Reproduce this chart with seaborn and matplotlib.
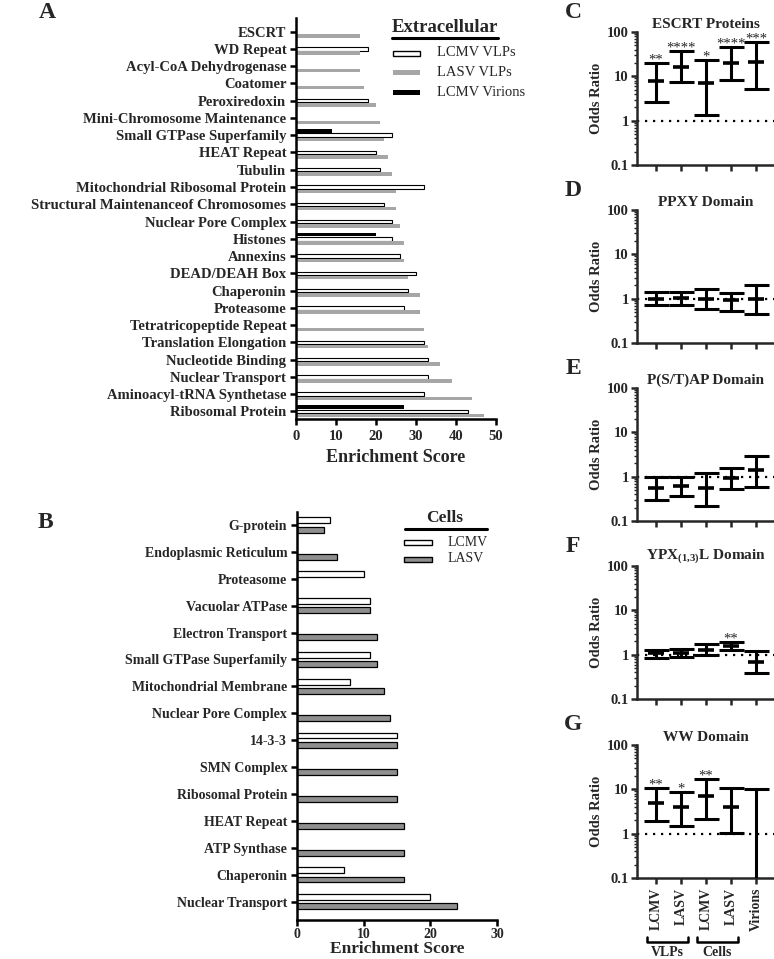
import numpy as np
import pandas as pd
import matplotlib
matplotlib.use("Agg")
import matplotlib.pyplot as plt
from matplotlib.patches import Rectangle
from matplotlib.lines import Line2D
from matplotlib.ticker import FixedLocator, LogLocator, NullFormatter
import seaborn as sns

# ---- panel A: extracellular enrichment ----
a_categories = [
    "ESCRT", "WD Repeat", "Acyl-CoA Dehydrogenase", "Coatomer", "Peroxiredoxin",
    "Mini-Chromosome Maintenance", "Small GTPase Superfamily", "HEAT Repeat", "Tubulin",
    "Mitochondrial Ribosomal Protein", "Structural Maintenanceof Chromosomes",
    "Nuclear Pore Complex", "Histones", "Annexins", "DEAD/DEAH Box", "Chaperonin",
    "Proteasome", "Tetratricopeptide Repeat", "Translation Elongation",
    "Nucleotide Binding", "Nuclear Transport", "Aminoacyl-tRNA Synthetase",
    "Ribosomal Protein",
]
nan = np.nan
a_lcmv_vlps = [nan, 18, nan, nan, 18, nan, 24, 20, 21, 32, 22, 24, 24, 26, 30, 28, 27,
               nan, 32, 33, 33, 32, 43]
a_lasv_vlps = [16, 16, 16, 17, 20, 21, 22, 23, 24, 25, 25, 26, 27, 27, 28, 31, 31,
               32, 33, 36, 39, 44, 47]
a_lcmv_virions = [nan, nan, nan, nan, nan, nan, 9, nan, nan, nan, nan, nan, 20, nan, nan,
                  nan, nan, nan, nan, nan, nan, nan, 27]
a_series = ["LCMV Virions", "LCMV VLPs", "LASV VLPs"]

# ---- panel B: cells enrichment ----
b_categories = [
    "G-protein", "Endoplasmic Reticulum", "Proteasome", "Vacuolar ATPase",
    "Electron Transport", "Small GTPase Superfamily", "Mitochondrial Membrane",
    "Nuclear Pore Complex", "14-3-3", "SMN Complex", "Ribosomal Protein",
    "HEAT Repeat", "ATP Synthase", "Chaperonin", "Nuclear Transport",
]
b_lcmv = [5, nan, 10, 11, nan, 11, 8, nan, 15, nan, nan, nan, nan, 7, 20]
b_lasv = [4, 6, nan, 11, 12, 12, 13, 14, 15, 15, 15, 16, 16, 16, 24]
b_series = ["LCMV", "LASV"]

# ---- panels C-G: odds ratios ----
or_groups = ["LCMV", "LASV", "LCMV", "LASV", "Virions"]
escrt_or = [7.8, 16.5, 7.2, 20.5, 21.5]
escrt_lo = [2.6, 7.4, 1.35, 8.1, 5.3]
escrt_hi = [19.5, 37, 23, 46, 60]
escrt_sig = ["**", "****", "*", "****", "***"]
ppxy_or = [1.0, 1.05, 1.0, 0.92, 1.0]
ppxy_lo = [0.72, 0.73, 0.6, 0.54, 0.44]
ppxy_hi = [1.38, 1.45, 1.68, 1.34, 2.0]
pstap_or = [0.56, 0.62, 0.56, 0.95, 1.45]
pstap_lo = [0.3, 0.36, 0.22, 0.52, 0.6]
pstap_hi = [1.0, 1.0, 1.18, 1.55, 2.9]
ypx_or = [1.1, 1.1, 1.3, 1.55, 0.68]
ypx_lo = [0.85, 0.88, 0.98, 1.25, 0.38]
ypx_hi = [1.3, 1.32, 1.75, 1.95, 1.2]
ypx_sig = ["", "", "", "**", ""]
ww_or = [4.9, 4.0, 6.9, 4.0, nan]
ww_lo = [1.9, 1.5, 2.1, 1.05, 0.01]
ww_hi = [10.7, 8.9, 17.2, 10.7, 10]
ww_sig = ["**", "*", "**", "", ""]

sns.set_style("ticks")
plt.rcParams["font.family"] = ["Liberation Serif", "DejaVu Serif"]
plt.rcParams["font.weight"] = "bold"
plt.rcParams["axes.labelweight"] = "bold"
plt.rcParams["axes.titleweight"] = "bold"
plt.rcParams["mathtext.fontset"] = "custom"
plt.rcParams["mathtext.rm"] = "Liberation Serif"
plt.rcParams["mathtext.bf"] = "Liberation Serif:bold"

W, H = 774, 959
fig = plt.figure(figsize=(W / 100, H / 100), dpi=100)


def add_ax(l, t, r, b):
    return fig.add_axes([l / W, 1 - b / H, (r - l) / W, (b - t) / H])


def fx(x):
    return x / W


def fy(y):
    return 1 - y / H


SPW = 1.8  # spine width in points


def style_bar_axes(ax):
    sns.despine(ax=ax)
    for s in ["left", "bottom"]:
        ax.spines[s].set_linewidth(SPW)
        ax.spines[s].set_color("black")
    ax.tick_params(axis="both", length=4, width=SPW, color="black")


# ---------- panel A ----------
axA = add_ax(296, 18, 496, 419)
dfA = pd.DataFrame({
    "category": a_categories * 3,
    "series": ["LCMV Virions"] * 23 + ["LCMV VLPs"] * 23 + ["LASV VLPs"] * 23,
    "value": a_lcmv_virions + a_lcmv_vlps + a_lasv_vlps,
}).dropna()
sns.barplot(data=dfA, x="value", y="category", hue="series", order=a_categories,
            hue_order=a_series, orient="h", width=0.75, gap=0.2, errorbar=None,
            palette={"LCMV Virions": "black", "LCMV VLPs": "white", "LASV VLPs": "#a6a6a6"},
            legend=False, ax=axA, linewidth=0)
for cont, name in zip(axA.containers, a_series):
    for p in cont:
        if name == "LCMV VLPs":
            p.set_edgecolor("black")
            p.set_linewidth(0.8)
axA.set_xlim(0, 50)
axA.set_ylim(22.44, -0.79)
axA.set_xticks([0, 10, 20, 30, 40, 50])
axA.set_ylabel("")
axA.set_xlabel("Enrichment Score", fontsize=13, labelpad=4)
style_bar_axes(axA)
axA.tick_params(axis="y", labelsize=10.5, pad=3)
axA.tick_params(axis="x", labelsize=10.5, pad=4)

# legend A
fig.text(fx(392), fy(27), "Extracellular", fontsize=13.5, ha="left", va="center")
fig.add_artist(Line2D([fx(392), fx(498)], [fy(38), fy(38)], color="black", lw=2.2))
a_leg_faces = {"LCMV VLPs": "white", "LASV VLPs": "#a6a6a6", "LCMV Virions": "black"}
for i, name in enumerate(["LCMV VLPs", "LASV VLPs", "LCMV Virions"]):
    yc = 53 + i * 19.5
    fig.add_artist(Rectangle((fx(393), fy(yc + 2.5)), (420 - 393) / W, 5 / H,
                             facecolor=a_leg_faces[name],
                             edgecolor="black" if name == "LCMV VLPs" else "none",
                             lw=1.0, transform=fig.transFigure))
    fig.text(fx(437), fy(yc), name, fontsize=10.5, fontweight="normal", ha="left", va="center")

# ---------- panel B ----------
axB = add_ax(297, 512, 497, 920)
dfB = pd.DataFrame({
    "category": b_categories * 2,
    "series": ["LCMV"] * 15 + ["LASV"] * 15,
    "value": b_lcmv + b_lasv,
}).dropna()
sns.barplot(data=dfB, x="value", y="category", hue="series", order=b_categories,
            hue_order=b_series, orient="h", width=0.7, gap=0.37, errorbar=None,
            palette={"LCMV": "white", "LASV": "#8f8f8f"}, edgecolor="black",
            linewidth=0.9, legend=False, ax=axB)
axB.set_xlim(0, 30)
axB.set_ylim(14.68, -0.48)
axB.set_xticks([0, 10, 20, 30])
axB.set_ylabel("")
axB.set_xlabel("Enrichment Score", fontsize=12.5, labelpad=0)
style_bar_axes(axB)
axB.tick_params(axis="y", labelsize=10, pad=3)
axB.tick_params(axis="x", labelsize=10, pad=2)

# legend B
fig.text(fx(445), fy(518), "Cells", fontsize=12.5, ha="center", va="center")
fig.add_artist(Line2D([fx(405), fx(487)], [fy(529), fy(529)], color="black", lw=2.2))
for i, (name, face) in enumerate(zip(b_series, ["white", "#8f8f8f"])):
    yc = 542 + i * 17
    fig.add_artist(Rectangle((fx(404), fy(yc + 2.5)), (432 - 404) / W, 5 / H,
                             facecolor=face, edgecolor="black", lw=1.0,
                             transform=fig.transFigure))
    fig.text(fx(448), fy(yc), name, fontsize=10, fontweight="normal", ha="left", va="center")

# ---------- panels C-G ----------
panels = [
    ("ESCRT Proteins", escrt_or, escrt_lo, escrt_hi, escrt_sig),
    ("PPXY Domain", ppxy_or, ppxy_lo, ppxy_hi, None),
    ("P(S/T)AP Domain", pstap_or, pstap_lo, pstap_hi, None),
    ("YPX$_{\\mathbf{(1{,}3)}}$L Domain", ypx_or, ypx_lo, ypx_hi, ypx_sig),
    ("WW Domain", ww_or, ww_lo, ww_hi, ww_sig),
]
tops = [32, 210, 388, 566, 745]
xpos = np.arange(len(or_groups))
for k, (title, est, lo, hi, sig) in enumerate(panels):
    ax = add_ax(637, tops[k], 774, tops[k] + 133)
    est = np.asarray(est, float)
    lo = np.asarray(lo, float)
    hi = np.asarray(hi, float)
    center = np.where(np.isnan(est), hi, est)
    ax.errorbar(xpos, center, yerr=[center - lo, hi - center], fmt="none",
                ecolor="black", elinewidth=2.2, capsize=9, capthick=2.2, zorder=3)
    ok = ~np.isnan(est)
    ax.plot(xpos[ok], est[ok], ls="none", marker="_", ms=11.5, mew=2.6,
            color="black", zorder=4)
    ax.axhline(1, color="black", lw=1.6, ls=(0, (1, 2.6)), zorder=2)
    if sig is not None:
        for xi, h, s in zip(xpos, hi, sig):
            if s:
                ax.annotate(s, (xi, h), xytext=(0, -2.5), textcoords="offset points",
                            ha="center", va="bottom", fontsize=10.5, fontweight="normal")
    ax.set_yscale("log")
    ax.set_ylim(0.1, 100)
    ax.set_xlim(-0.76, 4.72)
    ax.yaxis.set_major_locator(FixedLocator([0.1, 1, 10, 100]))
    ax.set_yticklabels(["0.1", "1", "10", "100"])
    ax.yaxis.set_minor_locator(LogLocator(base=10, subs=np.arange(2, 10)))
    ax.yaxis.set_minor_formatter(NullFormatter())
    ax.set_xticks(xpos)
    sns.despine(ax=ax)
    for s in ["left", "bottom"]:
        ax.spines[s].set_linewidth(SPW)
    ax.tick_params(axis="y", which="major", length=4, width=SPW, labelsize=10.5, pad=2)
    ax.tick_params(axis="y", which="minor", length=2.5, width=1.0)
    ax.tick_params(axis="x", length=4, width=SPW, pad=3)
    ax.set_ylabel("Odds Ratio", fontsize=10.5, labelpad=3)
    ax.set_title(title, fontsize=11, pad=3)
    if k == len(panels) - 1:
        ax.set_xticklabels(or_groups, rotation=90, fontsize=10)
    else:
        ax.set_xticklabels([])

# group brackets under panel G
for x0, x1, lab in [(647, 688, "VLPs"), (697, 738, "Cells")]:
    fig.add_artist(Line2D([fx(x0), fx(x0), fx(x1), fx(x1)],
                          [fy(937), fy(942), fy(942), fy(937)], color="black", lw=1.8))
    fig.text(fx((x0 + x1) / 2), fy(952), lab, fontsize=10, ha="center", va="center")

# panel letters
for lab, x, y in [("A", 47, 13), ("B", 45, 523), ("C", 573, 13), ("D", 573, 190),
                  ("E", 573, 368), ("F", 573, 547), ("G", 573, 725)]:
    fig.text(fx(x), fy(y), lab, fontsize=17, ha="center", va="center")

fig.savefig("out.png", dpi=100)
